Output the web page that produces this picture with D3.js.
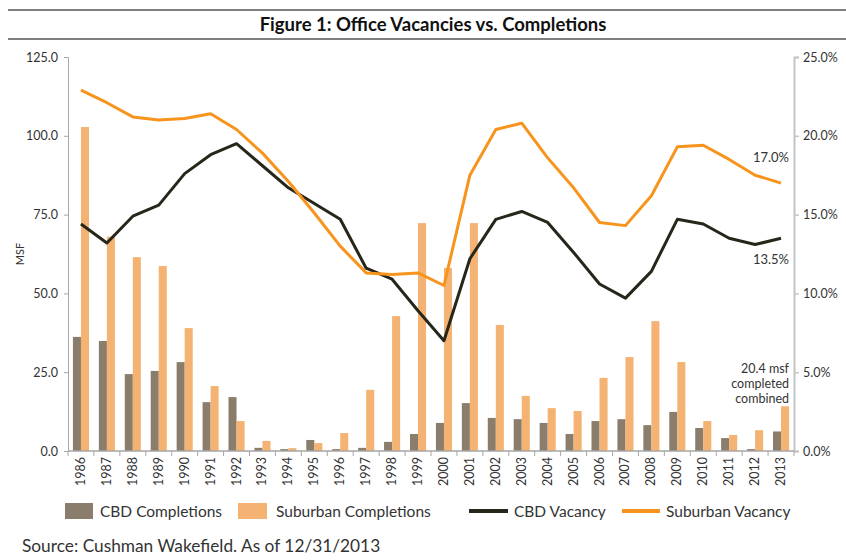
<!DOCTYPE html>
<html>
<head>
<meta charset="utf-8">
<script src="https://cdn.jsdelivr.net/npm/d3@7"></script>
<style>
  body { margin: 0; background: #fff; }
  svg { display: block; font-family: Lato, "Open Sans", sans-serif; }
</style>
</head>
<body>
<div class="chart-container"></div>
<script>
const width = 846;
const height = 560;

// data
const years = ["1986","1987","1988","1989","1990","1991","1992","1993","1994","1995",
    "1996","1997","1998","1999","2000","2001","2002","2003","2004","2005",
    "2006","2007","2008","2009","2010","2011","2012","2013"];
const cbdCompletions = [36.2, 34.9, 24.4, 25.4, 28.2, 15.5, 17.1, 1.0, 0.6, 3.5,
    0.6, 1.0, 2.9, 5.4, 8.9, 15.2, 10.5, 10.1, 8.9, 5.4,
    9.5, 10.1, 8.2, 12.4, 7.3, 4.1, 0.6, 6.2];
const suburbanCompletions = [102.8, 68.0, 61.5, 58.7, 39.0, 20.6, 9.5, 3.2, 0.9, 2.5,
    5.7, 19.4, 42.8, 72.3, 58.1, 72.3, 40.0, 17.5, 13.6, 12.7,
    23.2, 29.8, 41.2, 28.2, 9.5, 5.1, 6.6, 14.2];
const cbdVacancy = [14.4, 13.2, 14.9, 15.6, 17.6, 18.8, 19.5, 18.1, 16.7, 15.7,
    14.7, 11.6, 10.9, 8.9, 7.0, 12.2, 14.7, 15.2, 14.5, 12.6,
    10.6, 9.7, 11.4, 14.7, 14.4, 13.5, 13.1, 13.5];
const suburbanVacancy = [22.9, 22.1, 21.2, 21.0, 21.1, 21.4, 20.4, 18.9, 17.1, 15.1,
    13.0, 11.3, 11.2, 11.3, 10.5, 17.5, 20.4, 20.8, 18.6, 16.7,
    14.5, 14.3, 16.2, 19.3, 19.4, 18.5, 17.5, 17.0];
const leftTicks = [0, 25, 50, 75, 100, 125];
const rightTicks = [0, 5, 10, 15, 20, 25];

const cbdBarColor = "#8b7d6b";
const subBarColor = "#f4b273";
const cbdLineColor = "#26261a";
const subLineColor = "#f7941d";
const axisGrey = "#a6a6a6";
const textColor = "#333";

const plotLeft = 68, plotRight = 794, plotTop = 57, plotBottom = 451;

const svg = d3.select('.chart-container').append('svg')
    .attr('width', width)
    .attr('height', height);

// title with rules above and below
svg.append('line').attr('x1', 8).attr('x2', width).attr('y1', 10).attr('y2', 10)
    .attr('stroke', '#555').attr('stroke-width', 1.5);
svg.append('line').attr('x1', 8).attr('x2', width).attr('y1', 39).attr('y2', 39)
    .attr('stroke', '#555').attr('stroke-width', 1.5);
svg.append('text')
    .attr('x', 433).attr('y', 31)
    .attr('text-anchor', 'middle')
    .attr('font-size', '18.5px')
    .attr('font-weight', 'bold')
    .attr('fill', '#111')
    .text('Figure 1: Office Vacancies vs. Completions');

const x = d3.scaleBand().domain(years).range([plotLeft, plotRight]).padding(0);
const yLeft = d3.scaleLinear().domain([0, 125]).range([plotBottom, plotTop]);
const yRight = d3.scaleLinear().domain([0, 25]).range([plotBottom, plotTop]);
const barW = x.bandwidth() * 0.31;

// bars
const g = svg.append('g');
g.selectAll('.cbd-bar').data(years).enter().append('rect')
    .attr('class', 'cbd-bar')
    .attr('x', d => x(d) + x.bandwidth() / 2 - barW)
    .attr('y', (d, i) => yLeft(cbdCompletions[i]))
    .attr('width', barW)
    .attr('height', (d, i) => yLeft(0) - yLeft(cbdCompletions[i]))
    .attr('fill', cbdBarColor);
g.selectAll('.sub-bar').data(years).enter().append('rect')
    .attr('class', 'sub-bar')
    .attr('x', d => x(d) + x.bandwidth() / 2)
    .attr('y', (d, i) => yLeft(suburbanCompletions[i]))
    .attr('width', barW)
    .attr('height', (d, i) => yLeft(0) - yLeft(suburbanCompletions[i]))
    .attr('fill', subBarColor);

// left axis
const leftAxis = svg.append('g')
    .attr('transform', `translate(${plotLeft},0)`)
    .call(d3.axisLeft(yLeft).tickValues(leftTicks).tickFormat(d3.format('.1f')).tickSize(4).tickPadding(6));
leftAxis.select('.domain').attr('stroke', axisGrey);
leftAxis.selectAll('.tick line').attr('stroke', axisGrey);
leftAxis.selectAll('text').attr('font-size', '12.5px').attr('fill', textColor).attr('font-family', 'Lato, sans-serif');

// right axis
const rightAxis = svg.append('g')
    .attr('transform', `translate(${plotRight},0)`)
    .call(d3.axisRight(yRight).tickValues(rightTicks).tickFormat(d => d.toFixed(1) + '%').tickSize(5).tickPadding(4));
rightAxis.select('.domain').attr('stroke', '#c4c4c4').attr('stroke-width', 2);
rightAxis.selectAll('.tick line').attr('stroke', '#c4c4c4').attr('stroke-width', 1.5);
rightAxis.selectAll('text').attr('font-size', '12.5px').attr('fill', textColor).attr('font-family', 'Lato, sans-serif');

// x axis baseline and category ticks
svg.append('line')
    .attr('x1', plotLeft).attr('x2', plotRight)
    .attr('y1', plotBottom).attr('y2', plotBottom)
    .attr('stroke', axisGrey).attr('stroke-width', 1.5);
const boundaries = years.map(d => x(d)).concat([plotRight]);
svg.selectAll('.xtick').data(boundaries).enter().append('line')
    .attr('class', 'xtick')
    .attr('x1', d => d).attr('x2', d => d)
    .attr('y1', plotBottom).attr('y2', plotBottom + 5)
    .attr('stroke', axisGrey);
svg.selectAll('.xlabel').data(years).enter().append('text')
    .attr('class', 'xlabel')
    .attr('transform', d => `translate(${x(d) + x.bandwidth() / 2 + 4},${plotBottom + 6}) rotate(-90)`)
    .attr('text-anchor', 'end')
    .attr('font-size', '12.5px')
    .attr('fill', textColor)
    .text(d => d);

// axis title
svg.append('text')
    .attr('transform', 'translate(24,254) rotate(-90)')
    .attr('text-anchor', 'middle')
    .attr('font-size', '11px')
    .attr('fill', textColor)
    .text('MSF');

// vacancy lines
const lineGen = d3.line()
    .x((d, i) => x(years[i]) + x.bandwidth() / 2)
    .y(d => yRight(d));
svg.append('path').datum(cbdVacancy)
    .attr('d', lineGen)
    .attr('fill', 'none')
    .attr('stroke', cbdLineColor)
    .attr('stroke-width', 3)
    .attr('stroke-linejoin', 'round');
svg.append('path').datum(suburbanVacancy)
    .attr('d', lineGen)
    .attr('fill', 'none')
    .attr('stroke', subLineColor)
    .attr('stroke-width', 3)
    .attr('stroke-linejoin', 'round');

// annotations
const lastX = x(years[years.length - 1]) + x.bandwidth();
svg.append('text')
    .attr('x', lastX - 5).attr('y', 162)
    .attr('text-anchor', 'end').attr('font-size', '13px').attr('fill', textColor)
    .text(suburbanVacancy[suburbanVacancy.length - 1].toFixed(1) + '%');
svg.append('text')
    .attr('x', lastX - 5).attr('y', 264)
    .attr('text-anchor', 'end').attr('font-size', '13px').attr('fill', textColor)
    .text(cbdVacancy[cbdVacancy.length - 1].toFixed(1) + '%');
const combined = (cbdCompletions[cbdCompletions.length - 1] + suburbanCompletions[suburbanCompletions.length - 1]).toFixed(1);
[combined + ' msf', 'completed', 'combined'].forEach((t, i) => {
    svg.append('text')
        .attr('x', lastX - 5).attr('y', 373 + i * 15)
        .attr('text-anchor', 'end').attr('font-size', '12.5px').attr('fill', textColor)
        .text(t);
});

// legend
const legend = svg.append('g').attr('font-size', '15.5px').attr('fill', textColor);
legend.append('rect').attr('x', 65).attr('y', 503).attr('width', 28).attr('height', 16).attr('fill', cbdBarColor);
legend.append('text').attr('x', 100).attr('y', 517).attr('fill', textColor).text('CBD Completions');
legend.append('rect').attr('x', 238).attr('y', 503).attr('width', 29).attr('height', 16).attr('fill', subBarColor);
legend.append('text').attr('x', 276).attr('y', 517).attr('fill', textColor).text('Suburban Completions');
legend.append('line').attr('x1', 469).attr('x2', 508).attr('y1', 511).attr('y2', 511)
    .attr('stroke', cbdLineColor).attr('stroke-width', 4);
legend.append('text').attr('x', 514).attr('y', 517).attr('fill', textColor).text('CBD Vacancy');
legend.append('line').attr('x1', 622).attr('x2', 660).attr('y1', 511).attr('y2', 511)
    .attr('stroke', subLineColor).attr('stroke-width', 4);
legend.append('text').attr('x', 666).attr('y', 517).attr('fill', textColor).text('Suburban Vacancy');

// source note
svg.append('text')
    .attr('x', 22).attr('y', 552)
    .attr('font-size', '17.3px')
    .attr('fill', textColor)
    .text('Source: Cushman Wakefield. As of 12/31/2013');
</script>
</body>
</html>
